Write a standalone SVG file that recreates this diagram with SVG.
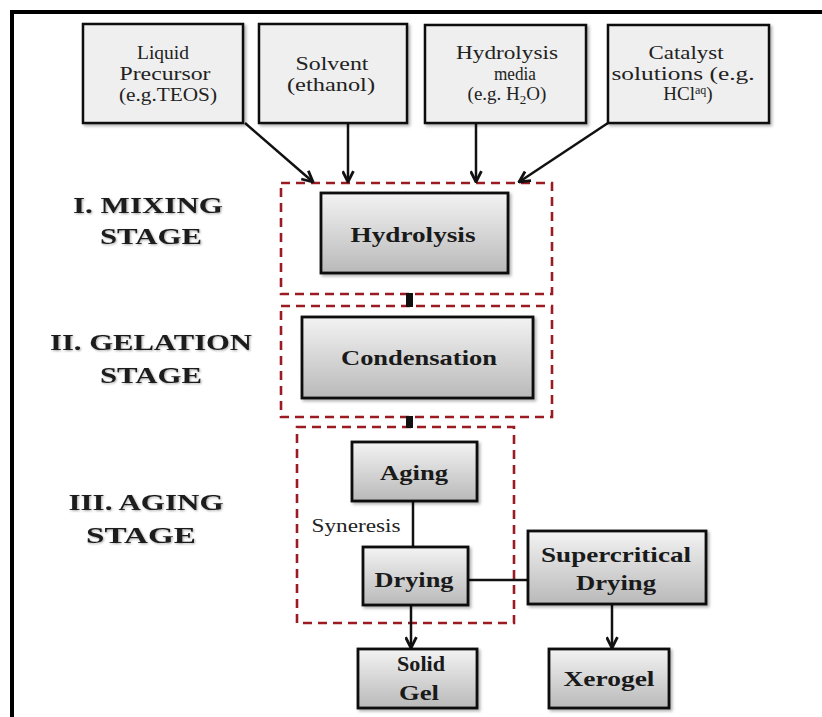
<svg xmlns="http://www.w3.org/2000/svg" width="822" height="717" viewBox="0 0 822 717">
<style>
.in{fill:#efefef;stroke:#111;stroke-width:2.5}
.nd{fill:url(#g);stroke:#111;stroke-width:2.8}
.dash{fill:none;stroke:#9a1c22;stroke-width:2.6;stroke-dasharray:9 6}
text{font-family:'Liberation Serif','Times New Roman',Times,serif}
.t{font-size:19px;fill:#222;text-anchor:middle}
.b{font-size:22px;font-weight:bold;fill:#1a1a1a;text-anchor:middle}
.s{font-size:24px;font-weight:bold;fill:#1a1a1a;text-anchor:middle}
.ln{fill:none;stroke:#111;stroke-width:2.5}
</style>
<defs>
<linearGradient id="g" x1="0" y1="0" x2="0" y2="1">
<stop offset="0" stop-color="#f3f3f3"/>
<stop offset="1" stop-color="#b9b9b9"/>
</linearGradient>
<filter id="sh" x="-10%" y="-10%" width="125%" height="130%">
<feDropShadow dx="2" dy="2" stdDeviation="1.5" flood-color="#000" flood-opacity="0.3"/>
</filter>
<filter id="ts" x="-10%" y="-30%" width="120%" height="160%">
<feDropShadow dx="1" dy="1" stdDeviation="1.2" flood-color="#000" flood-opacity="0.35"/>
</filter>
<marker id="ah" viewBox="0 0 12 12" refX="11" refY="6" markerWidth="13" markerHeight="13" markerUnits="userSpaceOnUse" orient="auto">
<path d="M1,1 L11,6 L1,11" fill="none" stroke="#111" stroke-width="2.6"/>
</marker>
</defs>
<rect width="822" height="717" fill="#fff"/>
<path d="M12,717 V12 H822" fill="none" stroke="#000" stroke-width="4"/>

<g id="stage-labels" filter="url(#ts)">
<text class="s" x="148" y="213" textLength="150" lengthAdjust="spacingAndGlyphs">I. MIXING</text>
<text class="s" x="151" y="244" textLength="102" lengthAdjust="spacingAndGlyphs">STAGE</text>
<text class="s" x="151" y="350" textLength="202" lengthAdjust="spacingAndGlyphs">II. GELATION</text>
<text class="s" x="151" y="383" textLength="102" lengthAdjust="spacingAndGlyphs">STAGE</text>
<text class="s" x="146" y="510" textLength="155" lengthAdjust="spacingAndGlyphs">III. AGING</text>
<text class="s" x="141" y="543" textLength="110" lengthAdjust="spacingAndGlyphs">STAGE</text>
</g>

<g id="stage-boxes">
<rect class="dash" x="281" y="183" width="271" height="111"/>
<rect class="dash" x="281" y="306" width="271" height="111"/>
<rect class="dash" x="297" y="427" width="217" height="196"/>
</g>

<g id="connectors">
<line class="ln" x1="245" y1="123" x2="313" y2="182" marker-end="url(#ah)"/>
<line class="ln" x1="348" y1="123" x2="348" y2="182" marker-end="url(#ah)"/>
<line class="ln" x1="476" y1="123" x2="476" y2="182" marker-end="url(#ah)"/>
<line class="ln" x1="608" y1="123" x2="519" y2="182" marker-end="url(#ah)"/>
<rect x="406" y="293" width="7" height="14" fill="#111"/>
<rect x="406" y="416" width="7" height="12" fill="#111"/>
<line class="ln" x1="413" y1="501" x2="413" y2="547"/>
<line class="ln" x1="468" y1="580" x2="528" y2="580"/>
<line class="ln" x1="411" y1="605" x2="411" y2="648" marker-end="url(#ah)"/>
<line class="ln" x1="612" y1="604" x2="612" y2="648" marker-end="url(#ah)"/>
<text class="t" x="356" y="532" font-size="18" textLength="89" lengthAdjust="spacingAndGlyphs">Syneresis</text>
</g>

<g id="liquid-precursor">
<rect class="in" x="83" y="24" width="160" height="99" filter="url(#sh)"/>
<text class="t" x="163" y="59" textLength="52" lengthAdjust="spacingAndGlyphs">Liquid</text>
<text class="t" x="165" y="80" textLength="91" lengthAdjust="spacingAndGlyphs">Precursor</text>
<text class="t" x="168" y="101" textLength="98" lengthAdjust="spacingAndGlyphs">(e.g.TEOS)</text>
</g>
<g id="solvent">
<rect class="in" x="259" y="24" width="148" height="99" filter="url(#sh)"/>
<text class="t" x="332" y="70" textLength="73" lengthAdjust="spacingAndGlyphs">Solvent</text>
<text class="t" x="331" y="91" textLength="88" lengthAdjust="spacingAndGlyphs">(ethanol)</text>
</g>
<g id="hydrolysis-media">
<rect class="in" x="425" y="25" width="161" height="98" filter="url(#sh)"/>
<text class="t" x="507" y="59" textLength="102" lengthAdjust="spacingAndGlyphs">Hydrolysis</text>
<text class="t" x="515" y="80" textLength="42" lengthAdjust="spacingAndGlyphs">media</text>
<text class="t" x="507" y="100" font-size="20">(e.g. H<tspan font-size="13" dy="4">2</tspan><tspan dy="-4">O)</tspan></text>
</g>
<g id="catalyst">
<rect class="in" x="608" y="25" width="161" height="98" filter="url(#sh)"/>
<text class="t" x="686" y="59" textLength="75" lengthAdjust="spacingAndGlyphs">Catalyst</text>
<text class="t" x="683" y="80" textLength="143" lengthAdjust="spacingAndGlyphs">solutions (e.g.</text>
<text class="t" x="688" y="100" font-size="20">HCl<tspan font-size="12" dy="-6">aq</tspan><tspan dy="6">)</tspan></text>
</g>

<g id="hydrolysis">
<rect class="nd" x="321" y="193" width="187" height="80" filter="url(#sh)"/>
<text class="b" x="413" y="242" textLength="125" lengthAdjust="spacingAndGlyphs">Hydrolysis</text>
</g>
<g id="condensation">
<rect class="nd" x="302" y="317" width="231" height="81" filter="url(#sh)"/>
<text class="b" x="419" y="365" textLength="156" lengthAdjust="spacingAndGlyphs">Condensation</text>
</g>
<g id="aging">
<rect class="nd" x="352" y="442" width="125" height="59" filter="url(#sh)"/>
<text class="b" x="414" y="480" textLength="68" lengthAdjust="spacingAndGlyphs">Aging</text>
</g>
<g id="drying">
<rect class="nd" x="363" y="547" width="105" height="58" filter="url(#sh)"/>
<text class="b" x="414" y="587" textLength="79" lengthAdjust="spacingAndGlyphs">Drying</text>
</g>
<g id="supercritical-drying">
<rect class="nd" x="528" y="531" width="178" height="73" filter="url(#sh)"/>
<text class="b" x="616" y="562" textLength="150" lengthAdjust="spacingAndGlyphs">Supercritical</text>
<text class="b" x="616" y="590" textLength="80" lengthAdjust="spacingAndGlyphs">Drying</text>
</g>
<g id="solid-gel">
<rect class="nd" x="358" y="649" width="119" height="59" filter="url(#sh)"/>
<text class="b" x="421" y="671" textLength="48" lengthAdjust="spacingAndGlyphs">Solid</text>
<text class="b" x="419" y="700" textLength="40" lengthAdjust="spacingAndGlyphs">Gel</text>
</g>
<g id="xerogel">
<rect class="nd" x="549" y="649" width="120" height="59" filter="url(#sh)"/>
<text class="b" x="609" y="686" textLength="91" lengthAdjust="spacingAndGlyphs">Xerogel</text>
</g>
</svg>
